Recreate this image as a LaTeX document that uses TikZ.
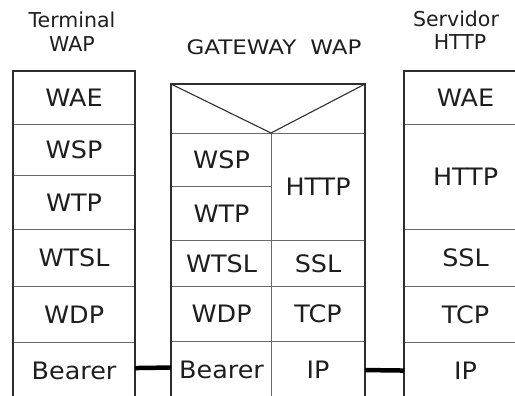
\documentclass[tikz,border=0pt]{standalone}
\usepackage{fontspec}
\setmainfont{DejaVu Sans}
\newfontfamily\labfont[FakeStretch=1.06]{DejaVu Sans}
\newfontfamily\gwfont[FakeStretch=1.15]{DejaVu Sans}
\definecolor{inkc}{HTML}{1E1E1E}
\definecolor{sepc}{HTML}{6A6A6A}
\definecolor{edgec}{HTML}{2E2E2E}
\begin{document}
\begin{tikzpicture}[x=1pt,y=-1pt,
  cell/.style={draw=sepc, line width=1.1pt, inner sep=0pt, anchor=north west,
    text=inkc, font=\labfont\fontsize{24}{28}\selectfont},
  edge/.style={draw=edgec, line width=1.4pt},
  conn/.style={draw=black, line width=4.5pt},
  title/.style={inner sep=0pt, anchor=base, text=inkc, font=\fontsize{20.5}{24}\selectfont}]
\useasboundingbox (0,0) rectangle (515,396);
\clip (0,0) rectangle (515,396);
% titles
\node[title] (t1) at (72,28) {Terminal};
\node[title] (t2) at (72,52) {WAP};
\node[title, font=\gwfont\fontsize{20}{24}\selectfont] (g1) at (274,55) {GATEWAY\hspace{14pt}WAP};
\node[title] (s1) at (456,27) {Servidor};
\node[title] (s2) at (460,50) {HTTP};
% terminal WAP
\node[cell, minimum width=121pt, minimum height=53pt] (twae) at (13,71) {WAE};
\node[cell, minimum width=121pt, minimum height=51pt] (twsp) at (13,124) {WSP};
\node[cell, minimum width=121pt, minimum height=54pt] (twtp) at (13,175) {WTP};
\node[cell, minimum width=121pt, minimum height=57pt] (twtsl) at (13,229) {WTSL};
\node[cell, minimum width=121pt, minimum height=56pt] (twdp) at (13,286) {WDP};
\node[cell, minimum width=121pt, minimum height=56pt] (tbearer) at (13,342) {Bearer};
\draw[edge] (twae.north west) rectangle (tbearer.south east);
% gateway WAP
\node[cell, minimum width=193pt, minimum height=49pt] (gtop) at (171,84) {};
\node[cell, minimum width=100pt, minimum height=53pt] (gwsp) at (171,133) {WSP};
\node[cell, minimum width=100pt, minimum height=54pt] (gwtp) at (171,186) {WTP};
\node[cell, minimum width=100pt, minimum height=46pt] (gwtsl) at (171,240) {WTSL};
\node[cell, minimum width=100pt, minimum height=55pt] (gwdp) at (171,286) {WDP};
\node[cell, minimum width=100pt, minimum height=57pt] (gbearer) at (171,341) {Bearer};
\node[cell, minimum width=93pt, minimum height=107pt] (ghttp) at (271,133) {HTTP};
\node[cell, minimum width=93pt, minimum height=46pt] (gssl) at (271,240) {SSL};
\node[cell, minimum width=93pt, minimum height=55pt] (gtcp) at (271,286) {TCP};
\node[cell, minimum width=93pt, minimum height=57pt] (gip) at (271,341) {IP};
\draw[edge] (gtop.north west) rectangle (gip.south east);
\draw[edge, line width=1.1pt] (gtop.north west) -- (ghttp.north west) -- (gtop.north east);
% servidor HTTP
\node[cell, minimum width=122pt, minimum height=53pt] (swae) at (404,71) {WAE};
\node[cell, minimum width=122pt, minimum height=105pt] (shttp) at (404,124) {HTTP};
\node[cell, minimum width=122pt, minimum height=57pt] (sssl) at (404,229) {SSL};
\node[cell, minimum width=122pt, minimum height=56pt] (stcp) at (404,286) {TCP};
\node[cell, minimum width=122pt, minimum height=56pt] (sip) at (404,342) {IP};
\draw[edge] (swae.north west) rectangle (sip.south east);
% connectors
\draw[conn] ([yshift=2.5pt]tbearer.east) -- ([yshift=2.5pt]gbearer.west);
\draw[conn] (gip.east) -- (sip.west);
\end{tikzpicture}
\end{document}
